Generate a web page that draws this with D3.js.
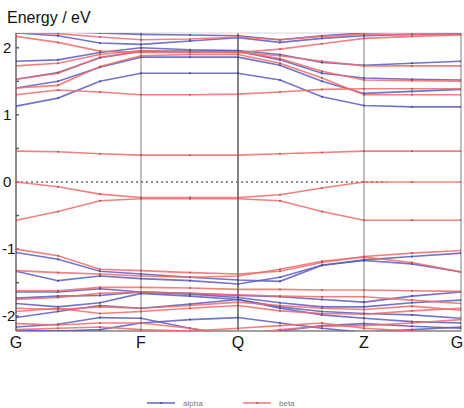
<!DOCTYPE html>
<html>
<head>
<meta charset="utf-8">
<script src="https://cdn.jsdelivr.net/npm/d3@7"></script>
<style>
  body { margin: 0; background: #fff; }
  svg { display: block; }
</style>
</head>
<body>
<div id="chart"></div>
<script>
// High-symmetry labels and where they sit on the k-path
const kLabels = ["G", "F", "Q", "Z", "G"];
const kLabelIndex = [0, 3, 5, 8, 10];
// distance along the k-path for every sampled point
const kPath = [0, 0.336, 0.672, 1.0, 1.392, 1.776, 2.112, 2.448, 2.784, 3.168, 3.56];
const yTicks = [-2, -1, 0, 1, 2];
const legendNames = ["alpha", "beta"];

// alpha (spin up) bands, eV, one value per k-point
const alphaBands = [
    [1.13, 1.25, 1.50, 1.62, 1.62, 1.62, 1.52, 1.27, 1.14, 1.12, 1.12],
    [1.40, 1.50, 1.71, 1.86, 1.86, 1.86, 1.74, 1.50, 1.32, 1.35, 1.38],
    [1.53, 1.63, 1.85, 1.95, 1.95, 1.95, 1.82, 1.62, 1.55, 1.53, 1.52],
    [1.80, 1.82, 1.93, 2.00, 1.97, 1.96, 1.90, 1.78, 1.74, 1.77, 1.80],
    [2.22, 2.18, 2.07, 2.05, 2.10, 2.15, 2.08, 2.14, 2.18, 2.20, 2.21],
    [2.25, 2.24, 2.22, 2.20, 2.19, 2.18, 2.12, 2.18, 2.22, 2.24, 2.25],
    [-1.05, -1.15, -1.33, -1.37, -1.42, -1.46, -1.48, -1.24, -1.16, -1.11, -1.06],
    [-1.33, -1.47, -1.40, -1.44, -1.47, -1.52, -1.42, -1.24, -1.17, -1.22, -1.34],
    [-1.64, -1.64, -1.59, -1.64, -1.66, -1.69, -1.71, -1.75, -1.79, -1.70, -1.64],
    [-1.73, -1.70, -1.69, -1.64, -1.67, -1.72, -1.80, -1.86, -1.86, -1.80, -1.76],
    [-1.81, -1.86, -1.80, -1.66, -1.70, -1.75, -1.86, -1.93, -1.96, -1.98, -2.03],
    [-2.02, -1.93, -1.84, -1.88, -1.82, -1.75, -1.88, -1.98, -2.03, -2.08, -2.10],
    [-2.16, -2.12, -2.02, -2.03, -2.18, -2.30, -2.22, -2.14, -2.11, -2.15, -2.18],
    [-2.21, -2.22, -2.20, -2.10, -2.05, -2.02, -2.10, -2.18, -2.24, -2.20, -2.16]
];

// beta (spin down) bands, eV
const betaBands = [
    [0.46, 0.45, 0.42, 0.40, 0.40, 0.40, 0.42, 0.44, 0.46, 0.46, 0.46],
    [0.00, -0.07, -0.18, -0.23, -0.23, -0.23, -0.19, -0.09, 0.00, 0.00, 0.00],
    [-0.57, -0.44, -0.28, -0.25, -0.25, -0.25, -0.28, -0.44, -0.57, -0.57, -0.57],
    [1.30, 1.37, 1.34, 1.30, 1.30, 1.31, 1.34, 1.38, 1.39, 1.39, 1.39],
    [1.40, 1.44, 1.72, 1.88, 1.90, 1.90, 1.77, 1.55, 1.30, 1.30, 1.30],
    [1.53, 1.62, 1.86, 1.94, 1.94, 1.94, 1.84, 1.65, 1.52, 1.51, 1.50],
    [1.73, 1.77, 1.90, 1.96, 1.94, 1.93, 1.98, 2.06, 2.14, 2.17, 2.19],
    [2.17, 2.08, 1.95, 1.93, 1.93, 1.93, 1.88, 1.80, 1.73, 1.73, 1.73],
    [2.22, 2.21, 2.16, 2.12, 2.13, 2.16, 2.12, 2.17, 2.20, 2.20, 2.20],
    [-1.00, -1.10, -1.30, -1.32, -1.35, -1.37, -1.33, -1.20, -1.11, -1.06, -1.02],
    [-1.32, -1.35, -1.37, -1.40, -1.42, -1.40, -1.30, -1.18, -1.12, -1.20, -1.34],
    [-1.62, -1.62, -1.57, -1.57, -1.58, -1.60, -1.60, -1.61, -1.61, -1.62, -1.63],
    [-1.75, -1.72, -1.66, -1.64, -1.66, -1.68, -1.70, -1.71, -1.71, -1.76, -1.81],
    [-1.88, -1.90, -1.86, -1.88, -1.84, -1.79, -1.84, -1.88, -1.90, -1.85, -1.91],
    [-1.93, -1.88, -1.96, -1.93, -1.88, -1.84, -1.92, -1.96, -1.97, -1.92, -1.88],
    [-2.11, -2.13, -2.10, -2.10, -2.18, -2.28, -2.20, -2.15, -2.14, -2.10, -2.05],
    [-2.20, -2.18, -2.16, -2.20, -2.22, -2.18, -2.14, -2.10, -2.18, -2.22, -2.24]
];

const width = 464,
    height = 408,
    margin = { top: 33, right: 3, bottom: 77, left: 16 },
    alphaColor = "#5a5abf",
    betaColor = "#f06a6a",
    fontFamily = "Liberation Sans, Arial, sans-serif";

const svg = d3.select("#chart")
    .append("svg")
    .attr("width", width)
    .attr("height", height);

const x = d3.scaleLinear()
    .domain([0, kPath[kPath.length - 1]])
    .range([margin.left, width - margin.right]);

const y = d3.scaleLinear()
    .domain([-2.22, 2.22])
    .range([height - margin.bottom, margin.top]);

// clip the bands to the plot box
svg.append("clipPath")
    .attr("id", "plotClip")
    .append("rect")
    .attr("x", x.range()[0])
    .attr("y", margin.top)
    .attr("width", x.range()[1] - x.range()[0])
    .attr("height", y.range()[0] - margin.top);

// vertical lines at the high-symmetry points
svg.append("g")
    .selectAll("line")
    .data(kLabelIndex)
    .enter()
    .append("line")
    .attr("x1", d => x(kPath[d]))
    .attr("x2", d => x(kPath[d]))
    .attr("y1", margin.top)
    .attr("y2", y.range()[0])
    .attr("stroke", (d, i) => (i === 2 ? "#6e6e6e" : (i === 0 ? "#8a8a8a" : "#bfbfbf")))
    .attr("stroke-width", (d, i) => (i === 2 ? 1.7 : 2));

// bottom and top frame
svg.append("line")
    .attr("x1", x.range()[0]).attr("x2", x.range()[1])
    .attr("y1", y.range()[0]).attr("y2", y.range()[0])
    .attr("stroke", "#a0a0a0").attr("stroke-width", 1.8);
svg.append("line")
    .attr("x1", x.range()[0]).attr("x2", x.range()[1])
    .attr("y1", margin.top).attr("y2", margin.top)
    .attr("stroke", "#d8d8d8").attr("stroke-width", 1);

// small ticks on the energy axis every 0.5 eV
svg.append("g")
    .selectAll("line")
    .data(d3.range(-2, 2.01, 0.5))
    .enter()
    .append("line")
    .attr("x1", margin.left)
    .attr("x2", margin.left + 3)
    .attr("y1", d => y(d))
    .attr("y2", d => y(d))
    .attr("stroke", "#555")
    .attr("stroke-width", 1.4);

const line = d3.line()
    .x((d, i) => x(kPath[i]))
    .y(d => y(d));

const plot = svg.append("g").attr("clip-path", "url(#plotClip)");

// Fermi level
plot.append("line")
    .attr("x1", x(0))
    .attr("x2", 387)
    .attr("y1", y(0))
    .attr("y2", y(0))
    .attr("stroke", "#6a6a6a")
    .attr("stroke-width", 1.5)
    .attr("stroke-dasharray", "2,3");

function drawBands(bands, color) {
    /* one path per band plus a tiny marker at every k-point */
    let g = plot.append("g");
    g.selectAll("path")
        .data(bands)
        .enter()
        .append("path")
        .attr("d", line)
        .attr("fill", "none")
        .attr("stroke", color)
        .attr("stroke-opacity", 0.85)
        .attr("stroke-width", 1.6);

    bands.forEach(band => {
        g.selectAll(null)
            .data(band)
            .enter()
            .append("circle")
            .attr("cx", (d, i) => x(kPath[i]))
            .attr("cy", d => y(d))
            .attr("r", 1)
            .attr("fill", d3.color(color).darker(0.8));
    });
}

drawBands(alphaBands, alphaColor);
drawBands(betaBands, betaColor);

// energy tick labels
svg.append("g")
    .selectAll("text")
    .data(yTicks)
    .enter()
    .append("text")
    .attr("x", d => (d < 0 ? 2 : 3))
    .attr("y", d => y(d) + 5)
    .attr("font-family", fontFamily)
    .attr("font-size", 15)
    .attr("fill", "#111")
    .text(d => (d < 0 ? "-" + Math.abs(d) : d));

// k-point labels
svg.append("g")
    .selectAll("text")
    .data(kLabels)
    .enter()
    .append("text")
    .attr("x", (d, i) => Math.min(x(kPath[kLabelIndex[i]]), 457))
    .attr("y", 348)
    .attr("text-anchor", "middle")
    .attr("font-family", fontFamily)
    .attr("font-size", 16)
    .attr("fill", "#111")
    .text(d => d);

// axis title
svg.append("text")
    .attr("x", 7)
    .attr("y", 23)
    .attr("font-family", fontFamily)
    .attr("font-size", 16)
    .attr("fill", "#111")
    .text("Energy / eV");

// legend
const legend = svg.append("g")
    .selectAll("g")
    .data(legendNames)
    .enter()
    .append("g")
    .attr("transform", (d, i) => "translate(" + (147 + i * 96) + ",403)");

legend.append("line")
    .attr("x1", 0)
    .attr("x2", 28)
    .attr("stroke", (d, i) => (i === 0 ? alphaColor : betaColor))
    .attr("stroke-width", 1.4);

legend.append("circle")
    .attr("cx", 14)
    .attr("r", 1)
    .attr("fill", (d, i) => d3.color(i === 0 ? alphaColor : betaColor).darker(0.8));

legend.append("text")
    .attr("x", 36)
    .attr("y", 3)
    .attr("font-family", fontFamily)
    .attr("font-size", 8)
    .attr("fill", "#777")
    .text(d => d);
</script>
</body>
</html>
